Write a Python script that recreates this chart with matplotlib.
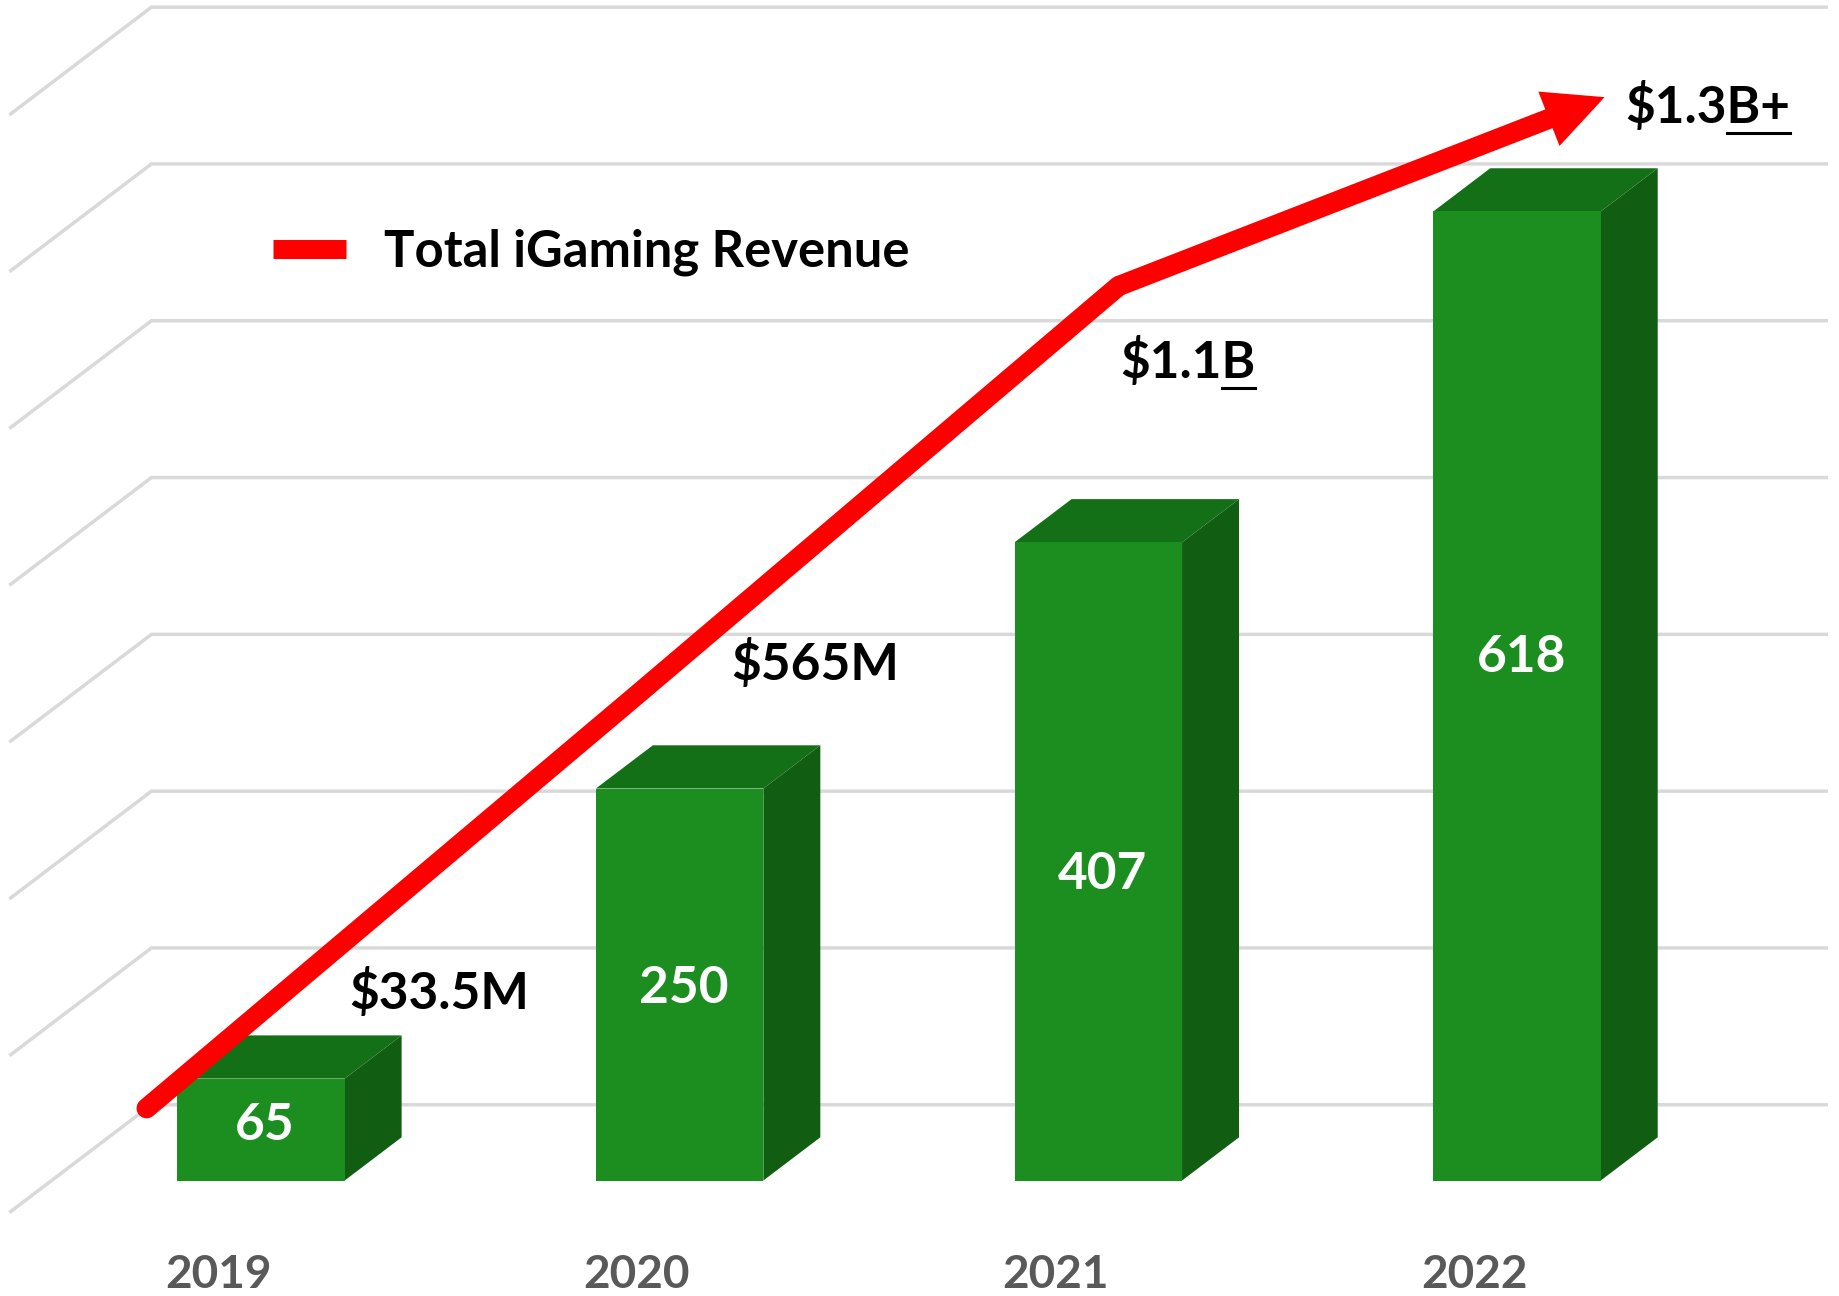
import matplotlib
matplotlib.use("Agg")
import matplotlib.pyplot as plt
from matplotlib.lines import Line2D
from matplotlib.patches import FancyArrowPatch

# data
years = ["2019", "2020", "2021", "2022"]
bar_values = [65, 250, 407, 618]
revenue_labels = ["\\$33.5M", "\\$565M", "\\$1.1", "\\$1.3"]
revenue_suffix = ["", "", "B", "B+"]          # underlined part
revenue_musd = [33.5, 565, 1100, 1345]        # red line in $M (last = arrow tip)
grid_values = [0, 100, 200, 300, 400, 500, 600, 700]

plt.rcParams['font.family'] = ['Lato', 'DejaVu Sans']

W, H = 1839, 1296
DX, DY = 0.336, 68.05          # depth shift of the floor
Z_FRONT, Z_BACK = 0.29, 0.695  # bar depth range
BAR_W = 0.40
GREEN_FRONT, GREEN_TOP, GREEN_SIDE = "#1c8e20", "#137016", "#115e13"
label_frac = [0.54, 0.49, 0.48, 0.54]   # where the value sits on each bar face


def proj(x, v, z):
    return x + DX * z, v + DY * z


def fpx(x, y):
    # figure pixel (from top-left) -> figure fraction
    return x / W, 1 - y / H


fig = plt.figure(figsize=(W / 100, H / 100), dpi=100)
ax = fig.add_axes([0, 0, 1, 1])
ax.set_xlim(-0.5257, 3.8665)
ax.set_ylim(-53.9, 772.6)
ax.axis('off')

# gridlines: left wall + back wall
n = len(years)
for g in grid_values:
    pts = [proj(-0.5, g, 0), proj(-0.5, g, 1), proj(n - 0.5, g, 1)]
    ax.plot([p[0] for p in pts], [p[1] for p in pts], color="#d9d9d9",
            lw=2.5, solid_joinstyle='miter', zorder=1)

# 3d bars
for i, h in enumerate(bar_values):
    l, r = i - BAR_W / 2, i + BAR_W / 2
    front = [proj(l, 0, Z_FRONT), proj(r, 0, Z_FRONT), proj(r, h, Z_FRONT), proj(l, h, Z_FRONT)]
    top = [proj(l, h, Z_FRONT), proj(r, h, Z_FRONT), proj(r, h, Z_BACK), proj(l, h, Z_BACK)]
    side = [proj(r, 0, Z_FRONT), proj(r, 0, Z_BACK), proj(r, h, Z_BACK), proj(r, h, Z_FRONT)]
    for poly, c in [(side, GREEN_SIDE), (top, GREEN_TOP), (front, GREEN_FRONT)]:
        ax.fill([p[0] for p in poly], [p[1] for p in poly], color=c, lw=0, zorder=2)
    cx, cy = proj(i + 0.01, h * label_frac[i], Z_FRONT)
    ax.text(cx, cy, str(h), color="white", fontsize=37, fontweight="bold",
            ha="center", va="center", zorder=3)
    ax.text(i - 0.005, -48.5, years[i], color="#595959", fontsize=33, fontweight="bold",
            ha="center", va="baseline", zorder=3)

# red revenue line on its own scale
ax2 = fig.add_axes([0, 0, 1, 1])
ax2.set_xlim(-0.3016, 3.4823)
ax2.set_ylim(-210, 1471)
ax2.axis('off')
xs = list(range(n))
ax2.plot(xs[:3], revenue_musd[:3], color="red", lw=14.5, solid_capstyle="round",
         solid_joinstyle="miter", zorder=5)
arrow = FancyArrowPatch((xs[2], revenue_musd[2]), (xs[3], revenue_musd[3]),
                        arrowstyle="simple,head_length=4.3,head_width=4.2,tail_width=1.45",
                        mutation_scale=10, color="red", lw=0, shrinkA=0, shrinkB=0, zorder=5)
ax2.add_patch(arrow)

# legend
handle = Line2D([], [], color="red", lw=13.7, solid_capstyle="butt")
ax2.legend([handle], ["Total iGaming Revenue"], loc="center left",
           bbox_to_anchor=fpx(273, 252), bbox_transform=fig.transFigure,
           frameon=False, handlelength=1.44, handletextpad=0.74,
           borderpad=0, borderaxespad=0, prop={'weight': 'bold', 'size': 36.5})

# revenue labels with underlined unit
label_pos = [(349, 1009), (731, 680), (1120, 378), (1625, 123)]
fig.canvas.draw()
renderer = fig.canvas.get_renderer()
for lab, suf, (x, y) in zip(revenue_labels, revenue_suffix, label_pos):
    t = fig.text(*fpx(x, y), lab + suf, fontsize=37, fontweight="bold",
                 color="black", ha="left", va="baseline")
    if suf:
        bb_full = t.get_window_extent(renderer)
        tmp = fig.text(*fpx(x, y), lab, fontsize=37, fontweight="bold",
                       ha="left", va="baseline")
        bb_pre = tmp.get_window_extent(renderer)
        tmp.remove()
        x0, x1 = bb_pre.x1, bb_full.x1
        yl = 1 - (y + 10) / H
        fig.add_artist(Line2D([x0 / W, x1 / W], [yl, yl], color="black", lw=2.2,
                              transform=fig.transFigure))

fig.savefig("out.png", dpi=100)
